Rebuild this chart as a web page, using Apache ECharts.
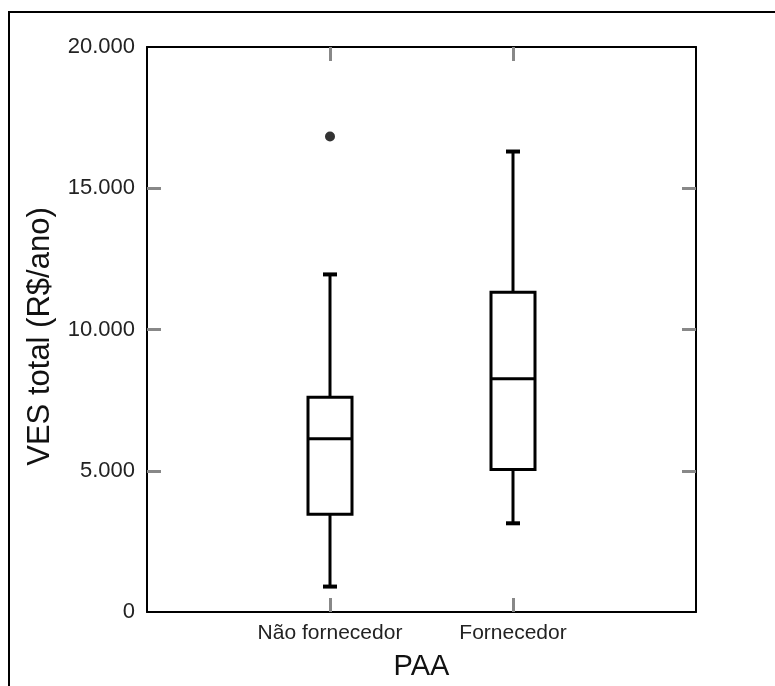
<!DOCTYPE html>
<html>
<head>
<meta charset="utf-8">
<script src="https://cdn.jsdelivr.net/npm/echarts@6/dist/echarts.min.js"></script>
<style>
    html, body { margin: 0; padding: 0; background: #fff; }
    #chart { width: 775px; height: 686px; }
</style>
</head>
<body>
<div id="chart"></div>
<script>
// categories on the x axis (empty slots keep the boxes at 1/3 and 2/3)
const categories = ['', 'Não fornecedor', 'Fornecedor', ''];
// box stats: [category index, lower whisker, Q1, median, Q3, upper whisker]
const boxStats = [
    [1, 900, 3460, 6130, 7600, 11950],
    [2, 3140, 5040, 8260, 11320, 16300]
];
// outliers: [category index, value]
const outliers = [
    [1, 16830]
];
const yTicks = [0, 5000, 10000, 15000, 20000];
const innerTicks = yTicks.slice(1, -1);

const fmt = v => v === 0 ? '0' : String(v).replace(/\B(?=(\d{3})+(?!\d))/g, '.');

const chart = echarts.init(document.getElementById('chart'));

const tickLine = { color: '#888', width: 3 };
const xTick = { show: true, inside: true, length: 14, interval: i => i === 1 || i === 2, lineStyle: tickLine };
const yTick = { show: true, inside: true, length: 14, customValues: innerTicks, lineStyle: tickLine };
const frameLine = { show: true, onZero: false, lineStyle: { color: '#000', width: 2 } };

function renderBox(params, api) {
    const cat = api.value(0);
    const lo = api.coord([cat, api.value(1)]);
    const q1 = api.coord([cat, api.value(2)]);
    const med = api.coord([cat, api.value(3)]);
    const q3 = api.coord([cat, api.value(4)]);
    const hi = api.coord([cat, api.value(5)]);
    const x = lo[0];
    const halfBox = 22, halfCap = 7;
    const st = { stroke: '#000', lineWidth: 3, fill: null };
    const cap = { stroke: '#000', lineWidth: 4 };
    return {
        type: 'group',
        children: [
            { type: 'line', shape: { x1: x, y1: hi[1], x2: x, y2: q3[1] }, style: st },
            { type: 'line', shape: { x1: x, y1: q1[1], x2: x, y2: lo[1] }, style: st },
            { type: 'line', shape: { x1: x - halfCap, y1: hi[1], x2: x + halfCap, y2: hi[1] }, style: cap },
            { type: 'line', shape: { x1: x - halfCap, y1: lo[1], x2: x + halfCap, y2: lo[1] }, style: cap },
            { type: 'rect', shape: { x: x - halfBox, y: q3[1], width: halfBox * 2, height: q1[1] - q3[1] }, style: { stroke: '#000', lineWidth: 3, fill: '#fff' } },
            { type: 'line', shape: { x1: x - halfBox, y1: med[1], x2: x + halfBox, y2: med[1] }, style: st }
        ]
    };
}

const option = {
    animation: false,
    textStyle: { fontFamily: 'Liberation Sans, Arial, sans-serif' },
    grid: { left: 147, right: 79, top: 47, bottom: 74 },
    graphic: [{
        type: 'rect',
        shape: { x: 9, y: 12, width: 800, height: 700 },
        style: { stroke: '#000', lineWidth: 2, fill: null },
        silent: true
    }],
    xAxis: [{
        type: 'category',
        data: categories,
        boundaryGap: false,
        name: 'PAA',
        nameLocation: 'middle',
        nameGap: 40,
        nameTextStyle: { fontSize: 29, color: '#111' },
        axisLine: frameLine,
        axisTick: xTick,
        axisLabel: { fontSize: 21, color: '#222', margin: 11, interval: 0, hideOverlap: false },
        splitLine: { show: false }
    }, {
        type: 'category',
        data: categories,
        boundaryGap: false,
        position: 'top',
        axisLine: frameLine,
        axisTick: xTick,
        axisLabel: { show: false },
        splitLine: { show: false }
    }],
    yAxis: [{
        type: 'value',
        min: yTicks[0],
        max: yTicks[yTicks.length - 1],
        interval: yTicks[1] - yTicks[0],
        name: 'VES total (R$/ano)',
        nameLocation: 'middle',
        nameGap: 91,
        nameTextStyle: { fontSize: 31, color: '#111', padding: [0, 14, 0, 0] },
        axisLine: frameLine,
        axisTick: yTick,
        axisLabel: { fontSize: 22, color: '#222', margin: 12, formatter: fmt },
        splitLine: { show: false }
    }, {
        type: 'value',
        min: yTicks[0],
        max: yTicks[yTicks.length - 1],
        interval: yTicks[1] - yTicks[0],
        position: 'right',
        axisLine: frameLine,
        axisTick: yTick,
        axisLabel: { show: false },
        splitLine: { show: false }
    }],
    series: [{
        type: 'custom',
        renderItem: renderBox,
        encode: { x: 0, y: [1, 2, 3, 4, 5] },
        data: boxStats,
        z: 3
    }, {
        type: 'scatter',
        data: outliers,
        symbol: 'circle',
        symbolSize: 10,
        itemStyle: { color: '#000' },
        z: 4
    }]
};

chart.setOption(option);
</script>
</body>
</html>
